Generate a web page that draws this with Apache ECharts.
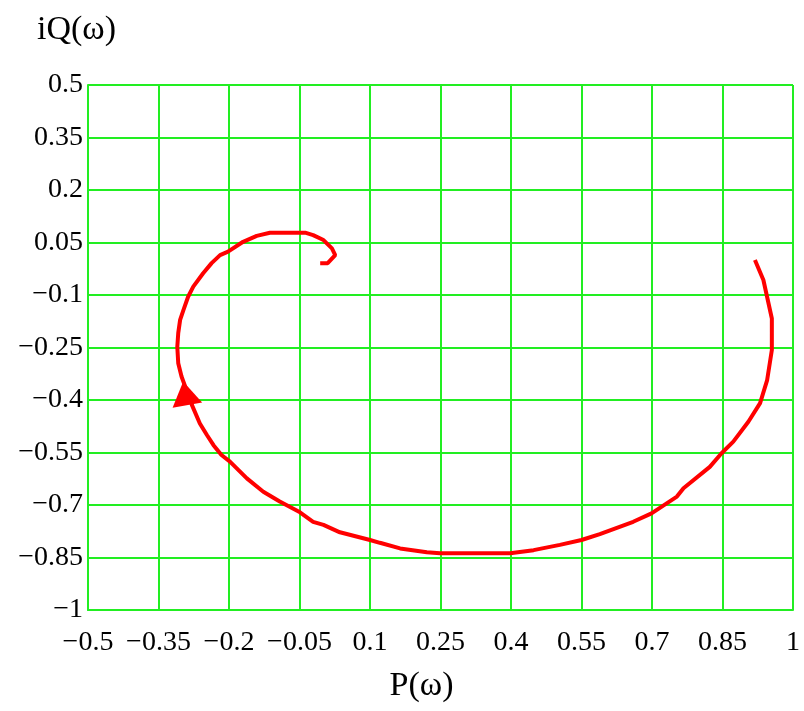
<!DOCTYPE html>
<html>
<head>
<meta charset="utf-8">
<script src="https://cdn.jsdelivr.net/npm/echarts@6/dist/echarts.min.js"></script>
<style>
  html, body { margin: 0; padding: 0; background: #ffffff; }
  #chart { width: 804px; height: 711px; }
</style>
</head>
<body>
<div id="chart"></div>
<script>
// Nyquist locus: real part P(ω) and imaginary part Q(ω), ordered by increasing ω
const pReal = [
  0.919, 0.937, 0.955, 0.955, 0.945, 0.930, 0.905, 0.873, 0.848, 0.823,
  0.767, 0.753, 0.699, 0.660, 0.589, 0.550, 0.504, 0.448, 0.398, 0.249,
  0.221, 0.164, 0.121, 0.100, 0.036, 0.001, -0.021, -0.049, -0.092, -0.127,
  -0.162, -0.198, -0.216, -0.233, -0.247, -0.262, -0.279, -0.301, -0.308, -0.310,
  -0.308, -0.304, -0.297, -0.287, -0.276, -0.255, -0.237, -0.219, -0.202, -0.170,
  -0.141, -0.113, -0.038, -0.021, 0.001, 0.019, 0.026, 0.010, -0.006
];
const qImag = [
  0.000, -0.057, -0.167, -0.257, -0.343, -0.409, -0.462, -0.519, -0.552, -0.591,
  -0.652, -0.676, -0.724, -0.748, -0.783, -0.800, -0.814, -0.829, -0.838, -0.838,
  -0.835, -0.824, -0.808, -0.800, -0.778, -0.757, -0.748, -0.721, -0.690, -0.662,
  -0.624, -0.576, -0.557, -0.529, -0.500, -0.467, -0.414, -0.333, -0.295, -0.248,
  -0.209, -0.171, -0.143, -0.105, -0.076, -0.038, -0.009, 0.014, 0.024, 0.052,
  0.069, 0.078, 0.078, 0.071, 0.057, 0.033, 0.014, -0.009, -0.009
];

// Direction arrow on the locus (position and heading angle in degrees)
const arrowPoint = [-0.293, -0.381];
const arrowAngle = 10;

// Axis ranges and tick step
const pRange = [-0.5, 1];
const qRange = [-1, 0.5];
const tickStep = 0.15;

const locus = pReal.map((p, i) => [p, qImag[i]]);

const fmt = v => {
  const r = Number(v.toFixed(2));
  return String(r).replace('-', '\u2212');
};

const font = '"Liberation Serif", "DejaVu Serif", serif';
const gridGreen = '#22ee22';

const chart = echarts.init(document.getElementById('chart'), null, { renderer: 'canvas' });
chart.setOption({
  backgroundColor: '#ffffff',
  animation: false,
  grid: {
    left: 88, right: 11, top: 85, bottom: 101,
    show: true, borderColor: '#000000', borderWidth: 1, backgroundColor: 'transparent'
  },
  xAxis: {
    type: 'value',
    min: pRange[0], max: pRange[1], interval: tickStep,
    name: 'P(\u03c9)',
    nameLocation: 'middle',
    nameGap: 59,
    nameTextStyle: { fontFamily: font, fontSize: 34, color: '#000', padding: [0, 38, 0, 0] },
    axisLine: { show: true, onZero: false, lineStyle: { color: gridGreen, width: 2 } },
    axisTick: { show: false },
    splitLine: { show: true, lineStyle: { color: gridGreen, width: 2 } },
    axisLabel: {
      formatter: fmt, margin: 19,
      fontFamily: font, fontSize: 28, color: '#000'
    }
  },
  yAxis: {
    type: 'value',
    min: qRange[0], max: qRange[1], interval: tickStep,
    name: 'iQ(\u03c9)',
    nameLocation: 'end',
    nameGap: 38,
    nameTextStyle: { fontFamily: font, fontSize: 34, color: '#000', padding: [0, 23, 0, 0] },
    axisLine: { show: true, onZero: false, lineStyle: { color: gridGreen, width: 2 } },
    axisTick: { show: false },
    splitLine: { show: true, lineStyle: { color: gridGreen, width: 2 } },
    axisLabel: {
      formatter: fmt, margin: 5,
      fontFamily: font, fontSize: 28, color: '#000'
    }
  },
  series: [
    {
      type: 'line',
      data: locus,
      showSymbol: false,
      smooth: false,
      lineStyle: { color: '#ff0000', width: 4 },
      z: 3
    },
    {
      type: 'scatter',
      data: [arrowPoint],
      symbol: 'triangle',
      symbolSize: [30, 24],
      symbolRotate: arrowAngle,
      itemStyle: { color: '#ff0000', opacity: 1 },
      z: 4
    }
  ]
});
</script>
</body>
</html>
